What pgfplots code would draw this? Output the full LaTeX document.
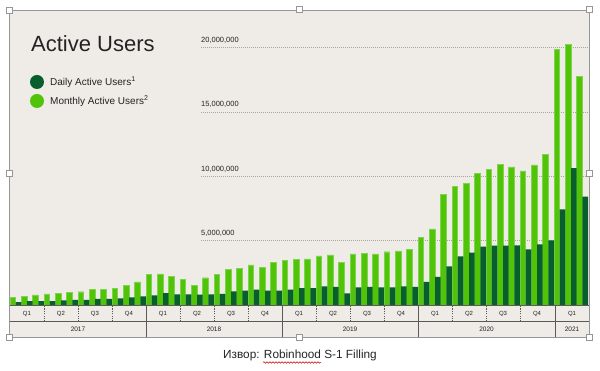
\documentclass[border=0pt]{standalone}
\usepackage{pgfplots}
\usepackage{pgfplotstable}
\pgfplotsset{compat=1.18}
\usetikzlibrary{decorations.pathmorphing}
\usepackage{fontspec}
\setmainfont{Liberation Sans}
\definecolor{bg}{RGB}{239,235,231}
\definecolor{dgreen}{RGB}{8,94,45}
\definecolor{lgreen}{RGB}{82,196,8}
\definecolor{lgreenedge}{RGB}{125,212,80}
\definecolor{framec}{RGB}{150,150,150}
\definecolor{gridc}{RGB}{170,165,160}
\definecolor{axc}{RGB}{90,90,90}
\definecolor{labc}{RGB}{35,35,35}

\pgfplotstableread{
m mau dau
1 0.60 0.23
2 0.68 0.31
3 0.78 0.31
4 0.86 0.31
5 0.88 0.36
6 0.96 0.39
7 1.03 0.39
8 1.22 0.47
9 1.22 0.47
10 1.32 0.52
11 1.53 0.60
12 1.79 0.67
13 2.36 0.75
14 2.41 0.93
15 2.23 0.83
16 2.00 0.83
17 1.53 0.80
18 2.12 0.83
19 2.36 0.86
20 2.78 1.06
21 2.85 1.11
22 3.11 1.19
23 2.93 1.11
24 3.29 1.11
25 3.47 1.19
26 3.55 1.32
27 3.58 1.32
28 3.81 1.45
29 3.89 1.40
30 3.29 0.91
31 3.97 1.37
32 4.02 1.40
33 3.97 1.37
34 4.14 1.37
35 4.20 1.45
36 4.30 1.40
37 5.26 1.79
38 5.91 2.18
39 8.60 3.00
40 9.23 3.78
41 9.46 4.07
42 10.24 4.53
43 10.52 4.61
44 10.91 4.61
45 10.73 4.64
46 10.42 4.33
47 10.89 4.72
48 11.72 5.03
49 19.88 7.44
50 20.27 10.63
51 17.75 8.42
}\datatable

\begin{document}
\begin{tikzpicture}[x=1pt,y=1pt]
\begin{scope}[shift={(-10,-66)}]
\path[use as bounding box] (0,0) rectangle (600,371);
\fill[white] (0,0) rectangle (600,371);
\fill[bg] (9.5,34) rectangle (589.5,361);
\end{scope}
\begin{axis}[at={(0,0)}, anchor=south west, scale only axis,
  width=578pt, height=295pt, xmin=0, xmax=51, ymin=0, ymax=22.93,
  hide axis, clip=false]
\draw[gridc, line width=0.7pt, dash pattern=on 0.8pt off 1.2pt] (axis cs:16.85,20) -- (axis cs:51.1,20);
\draw[gridc, line width=0.7pt, dash pattern=on 0.8pt off 1.2pt] (axis cs:16.85,15) -- (axis cs:51.1,15);
\draw[gridc, line width=0.7pt, dash pattern=on 0.8pt off 1.2pt] (axis cs:16.85,10) -- (axis cs:51.1,10);
\draw[gridc, line width=0.7pt, dash pattern=on 0.8pt off 1.2pt] (axis cs:16.85,5) -- (axis cs:51.1,5);
\node[anchor=base west, inner sep=0, font=\fontsize{7.5}{9}\selectfont, text=labc, yshift=5.3pt] at (axis cs:16.85,20) {20,000,000};
\node[anchor=base west, inner sep=0, font=\fontsize{7.5}{9}\selectfont, text=labc, yshift=5.3pt] at (axis cs:16.85,15) {15,000,000};
\node[anchor=base west, inner sep=0, font=\fontsize{7.5}{9}\selectfont, text=labc, yshift=5.3pt] at (axis cs:16.85,10) {10,000,000};
\node[anchor=base west, inner sep=0, font=\fontsize{7.5}{9}\selectfont, text=labc, yshift=5.3pt] at (axis cs:16.85,5) {5,000,000};
\addplot[ybar, bar width=0.5, bar shift=0pt, fill=lgreen, draw=lgreenedge, line width=0.4pt]
  table[x expr=\thisrow{m}-0.75, y=mau] {\datatable};
\addplot[ybar, bar width=0.5, bar shift=0pt, fill=dgreen, draw=none]
  table[x expr=\thisrow{m}-0.25, y=dau] {\datatable};
\end{axis}
\begin{scope}[shift={(-10,-66)}]
% category axis decoration
\draw[axc, line width=0.7pt] (10,66) -- (589,66);
\draw[axc, line width=0.5pt] (10,49.3) -- (589,49.3);
\foreach \x in {146,282,418,555} \draw[axc, line width=0.6pt] (\x,34) -- (\x,66);
\foreach \s in {10,146,282,418} {
  \foreach \k in {1,2,3} \draw[axc, line width=0.6pt, dash pattern=on 1.2pt off 1.2pt] ({\s+34*\k},49.3) -- ({\s+34*\k},66);
  \foreach \k/\q in {0/1,1/2,2/3,3/4} \node[anchor=base, inner sep=0, font=\fontsize{6}{7}\selectfont, text=labc] at ({\s+17+34*\k},55.8) {Q\q};
}
\node[anchor=base, inner sep=0, font=\fontsize{6}{7}\selectfont, text=labc] at (572,55.8) {Q1};
\foreach \x/\y in {78/2017,214/2018,350/2019,486.5/2020,572/2021}
  \node[anchor=base, inner sep=0, font=\fontsize{6.5}{8}\selectfont, text=labc] at (\x,39.7) {\y};
% frame
\draw[framec, line width=0.8pt] (9.5,34) rectangle (589.5,361);
% title and legend
\node[anchor=west, inner sep=0, font=\fontsize{22}{26}\selectfont, text=labc] at (31,327) {Active Users};
\fill[dgreen] (37,289) circle (7);
\fill[lgreen] (37,270) circle (7);
\node[anchor=base west, inner sep=0, font=\fontsize{10}{12}\selectfont, text=labc] at (50,285.4) {Daily Active Users\textsuperscript{1}};
\node[anchor=base west, inner sep=0, font=\fontsize{10}{12}\selectfont, text=labc] at (50,266.4) {Monthly Active Users\textsuperscript{2}};
% handles
\foreach \x/\y in {9.5/361,299/362,589.5/362,9.5/198,589.5/198,9.5/34,299/34,589.5/34}
  \draw[framec, fill=white, line width=0.6pt] (\x-3,\y-3) rectangle (\x+3,\y+3);
% caption
\node[anchor=base, inner sep=0, font=\fontsize{11.8}{14}\selectfont, text=black!85] at (300,12) {Извор: Robinhood S-1 Filling};
\draw[red!80!black, line width=0.5pt, decorate, decoration={snake, amplitude=0.8pt, segment length=3pt}] (263,8.5) -- (321,8.5);
\end{scope}
\end{tikzpicture}
\end{document}
